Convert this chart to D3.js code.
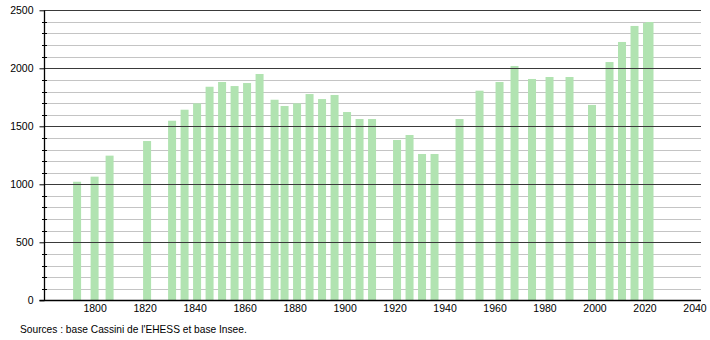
<!DOCTYPE html>
<html><head><meta charset="utf-8">
<script src="https://cdn.jsdelivr.net/npm/d3@7"></script>
<style>body{margin:0;background:#fff}svg{display:block}text{font-family:"Liberation Sans",Arial,sans-serif}</style>
</head><body>
<script>
const years = [1793,1800,1806,1821,1831,1836,1841,1846,1851,1856,1861,1866,1872,1876,1881,1886,1891,1896,1901,1906,1911,1921,1926,1931,1936,1946,1954,1962,1968,1975,1982,1990,1999,2006,2011,2016,2021,2022];
const population = [1022,1066,1247,1373,1548,1643,1698,1841,1882,1847,1873,1951,1729,1675,1698,1778,1735,1770,1623,1563,1563,1382,1425,1261,1261,1563,1807,1882,2020,1908,1925,1925,1684,2054,2227,2365,2390,2399];
const xTicks = [1800,1820,1840,1860,1880,1900,1920,1940,1960,1980,2000,2020,2040];
const yTicks = [0,500,1000,1500,2000,2500];
const sourceText = "Sources : base Cassini de l'EHESS et base Insee.";

const W = 710, H = 340;
const svg = d3.select("body").append("svg").attr("width", W).attr("height", H);
const x = d3.scaleLinear().domain([1780, 2042.6]).range([44.6, 701]);
const y = d3.scaleLinear().domain([0, 2500]).range([300.3, 10.3]);
const x0 = 44.5;

// minor gridlines
svg.append("g").selectAll("line").data(d3.range(100, 2500, 100).filter(v => v % 500 !== 0))
  .join("line").attr("x1", x0).attr("x2", 701).attr("y1", d => Math.round(y(d)) + 0.5).attr("y2", d => Math.round(y(d)) + 0.5)
  .attr("stroke", "#c4c4c4").attr("stroke-width", 1);

// bars
const bw = 8;
svg.append("g").selectAll("rect").data(years.map((yr, i) => ({yr, v: population[i]})))
  .join("rect")
  .attr("x", d => x(d.yr) - bw / 2).attr("width", bw)
  .attr("y", d => y(d.v)).attr("height", d => y(0) - y(d.v))
  .attr("fill", "#b1e3b1");

// major gridlines
svg.append("g").selectAll("line").data(yTicks.filter(v => v > 0))
  .join("line").attr("x1", x0).attr("x2", 701).attr("y1", d => Math.round(y(d)) + 0.5).attr("y2", d => Math.round(y(d)) + 0.5)
  .attr("stroke", "#3a3a3a").attr("stroke-width", 1);

// y axis
const yAxis = d3.axisLeft(y).tickValues(yTicks).tickSize(5).tickPadding(6).tickFormat(d3.format("d"));
const gy = svg.append("g").attr("transform", `translate(${x0},0)`).call(yAxis);
gy.select(".domain").remove();
gy.selectAll(".tick line").attr("stroke", "#000");
gy.selectAll(".tick text").attr("font-size", 10.5).attr("fill", "#000").attr("font-family", "Liberation Sans, Arial, sans-serif");
// minor ticks
svg.append("g").selectAll("line").data(d3.range(100, 2500, 100).filter(v => v % 500 !== 0))
  .join("line").attr("x1", x0 - 2.5).attr("x2", x0 + 2.5).attr("y1", d => Math.round(y(d)) + 0.5).attr("y2", d => Math.round(y(d)) + 0.5)
  .attr("stroke", "#000");
svg.append("line").attr("x1", x0).attr("x2", x0).attr("y1", y(2500)).attr("y2", y(0) + 0.5).attr("stroke", "#000").attr("stroke-width", 1.3);

// x axis
const xAxis = d3.axisBottom(x).tickValues(xTicks).tickSize(0).tickPadding(4).tickFormat(d3.format("d"));
const gx = svg.append("g").attr("transform", `translate(0,${Math.round(y(0)) + 0.5})`).call(xAxis);
gx.select(".domain").remove();
gx.selectAll(".tick text").attr("font-size", 10.5).attr("fill", "#000").attr("font-family", "Liberation Sans, Arial, sans-serif");
svg.append("line").attr("x1", x0 - 5).attr("x2", 701).attr("y1", Math.round(y(0)) + 0.5).attr("y2", Math.round(y(0)) + 0.5).attr("stroke", "#000").attr("stroke-width", 1.3);

svg.append("text").attr("x", 20).attr("y", 333).attr("font-size", 10.2).attr("fill", "#000").text(sourceText);
</script>
</body></html>
